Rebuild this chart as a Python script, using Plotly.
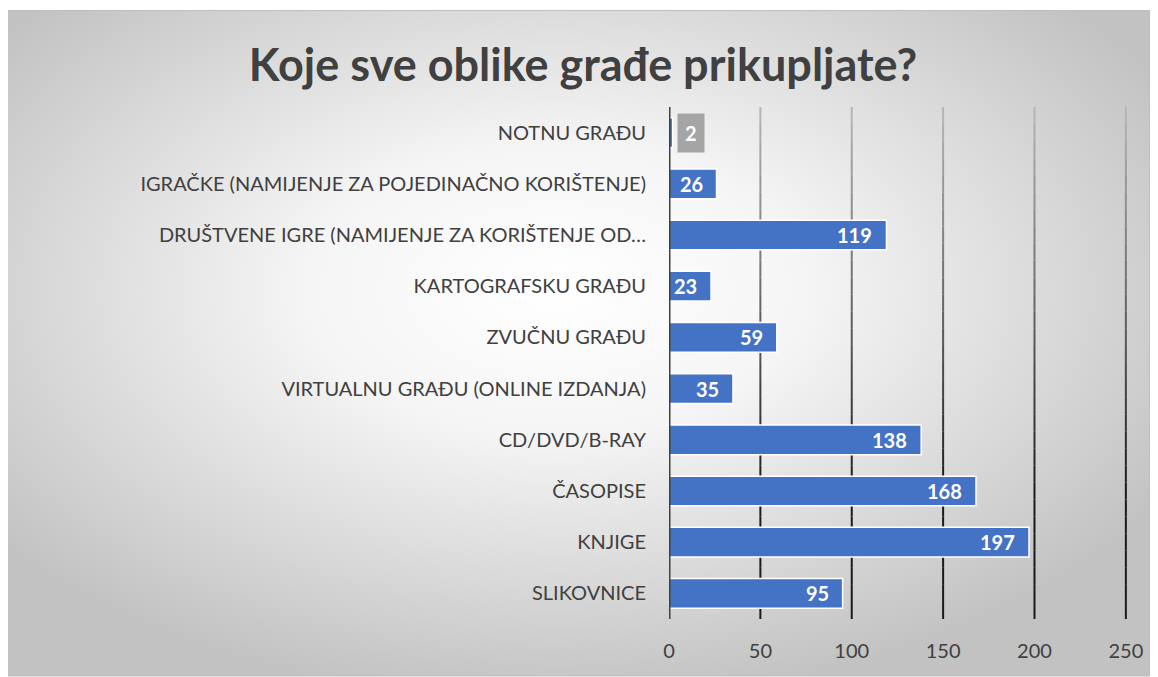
import base64
import plotly.graph_objects as go

categories = [
    "SLIKOVNICE",
    "KNJIGE",
    "ČASOPISE",
    "CD/DVD/B-RAY",
    "VIRTUALNU GRAĐU (ONLINE IZDANJA)",
    "ZVUČNU GRAĐU",
    "KARTOGRAFSKU GRAĐU",
    "DRUŠTVENE IGRE (NAMIJENJE ZA KORIŠTENJE OD…",
    "IGRAČKE (NAMIJENJE ZA POJEDINAČNO KORIŠTENJE)",
    "NOTNU GRAĐU",
]
values = [95, 197, 168, 138, 35, 59, 23, 119, 26, 2]
tick_values = [0, 50, 100, 150, 200, 250]
title_text = "Koje sve oblike građe prikupljate?"

# page has an 8px body margin; figure coordinates are page coordinates minus 8
OFF = 8
W, H = 1150, 669
ML, PW = 669 - OFF, 466
MT, PH = 107 - OFF, 512
MR = W - ML - PW
MB = H - MT - PH

FONT = "Lato"
TXT = "#404040"
BLUE = "#4472C4"

fig = go.Figure()
fig.add_trace(go.Bar(
    y=categories, x=values, orientation="h",
    marker=dict(color=BLUE, line=dict(color="white", width=1.5)),
    hoverinfo="x+y",
))

# data labels
annotations = []
for c, v in zip(categories, values):
    if v >= 10:
        annotations.append(dict(x=v, y=c, xref="x", yref="y", text=f"<b>{v}</b>",
                                showarrow=False, xanchor="right", xshift=-12,
                                font=dict(family=FONT, size=20, color="white")))
    else:
        annotations.append(dict(x=v, y=c, xref="x", yref="y", text=f"<b>{v}</b>",
                                showarrow=False, xanchor="left", xshift=4,
                                bgcolor="#A5A5A5", borderpad=7,
                                font=dict(family=FONT, size=20, color="white")))

# background radial gradient image
svg = f'''<svg xmlns="http://www.w3.org/2000/svg" width="{W}" height="{H}" preserveAspectRatio="none">
<defs><radialGradient id="g" cx="48%" cy="42%" r="62%">
<stop offset="0" stop-color="#ffffff"/><stop offset="0.35" stop-color="#f5f5f5"/>
<stop offset="1" stop-color="#c2c2c2"/></radialGradient></defs>
<rect x="0" y="0" width="{W}" height="{H}" fill="url(#g)"/></svg>'''
src = "data:image/svg+xml;base64," + base64.b64encode(svg.encode()).decode()

fx0, fx1, fy0, fy1 = 7 - OFF, 1150 - OFF, 10 - OFF, 676 - OFF
def px_to_paper_x(px):
    return (px - ML) / PW
def px_to_paper_y(py):
    return 1 - (py - MT) / PH

images = [dict(source=src, xref="paper", yref="paper",
               x=px_to_paper_x(fx0), y=px_to_paper_y(fy0),
               sizex=(fx1 - fx0) / PW, sizey=(fy1 - fy0) / PH,
               sizing="stretch", layer="below", xanchor="left", yanchor="top")]

shapes = [dict(type="rect", xref="paper", yref="paper",
               x0=px_to_paper_x(fx0 + 0.5), x1=px_to_paper_x(fx1 - 0.5),
               y0=px_to_paper_y(fy1), y1=px_to_paper_y(fy0 + 0.5),
               line=dict(color="#BFBFBF", width=1), fillcolor="rgba(0,0,0,0)", layer="below")]

# gradient gridlines (light at top, dark at bottom)
N = 30
def lerp(a, b, t):
    return int(round(a + (b - a) * t))
for tv in tick_values[1:]:
    for k in range(N):
        t = min(1.0, (k + 0.5) / N / 0.75)
        g = lerp(0xB8, 0x1A, t)
        col = f"rgb({g},{g},{g})"
        shapes.append(dict(type="line", xref="x", yref="paper", x0=tv, x1=tv,
                           y0=1 - k / N, y1=1 - (k + 1) / N,
                           line=dict(color=col, width=2), layer="below"))
# zero axis line
shapes.append(dict(type="line", xref="x", yref="paper", x0=0, x1=0, y0=0, y1=1,
                   line=dict(color="#404040", width=3), layer="above"))

fig.update_layout(
    width=W, height=H,
    margin=dict(l=ML, r=MR, t=MT, b=MB, autoexpand=False),
    paper_bgcolor="white", plot_bgcolor="rgba(0,0,0,0)",
    title=dict(text=f"<b>{title_text}</b>", x=(583 - OFF) / W, xanchor="center",
               y=1 - (65 - OFF) / H, yanchor="middle", xref="container", yref="container",
               font=dict(family=FONT, size=45, color=TXT)),
    xaxis=dict(range=[0, 255], tickvals=tick_values, showgrid=False, zeroline=False,
               showline=False, ticks="", tickfont=dict(family=FONT, size=20, color=TXT),
               ticklabelstandoff=18, fixedrange=True),
    yaxis=dict(showgrid=False, zeroline=False, showline=False, ticks="",
               tickfont=dict(family=FONT, size=20, color=TXT), ticklabelstandoff=22,
               categoryorder="array", categoryarray=categories, fixedrange=True),
    bargap=0.42,
    showlegend=False,
    annotations=annotations,
    shapes=shapes,
    images=images,
    font=dict(family=FONT),
)

fig.write_html("out.html")
